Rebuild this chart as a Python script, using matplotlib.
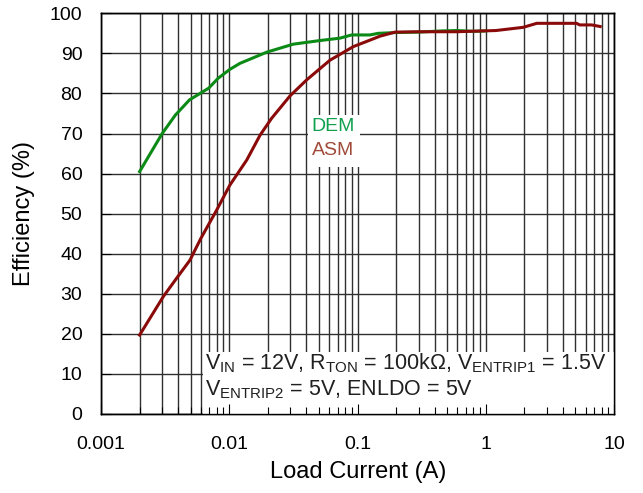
import matplotlib
matplotlib.use("Agg")
import matplotlib.pyplot as plt
from matplotlib.patches import Rectangle
from matplotlib.ticker import LogLocator, FixedLocator, NullFormatter, FixedFormatter

plt.rcParams['font.family'] = ['Liberation Sans', 'DejaVu Sans']
plt.rcParams['mathtext.fontset'] = 'custom'
plt.rcParams['mathtext.rm'] = 'Liberation Sans'
plt.rcParams['mathtext.it'] = 'Liberation Sans'

# Data
dem_current = [0.002, 0.003, 0.0038, 0.0049, 0.0069, 0.0082, 0.0101, 0.0121, 0.0196,
               0.0316, 0.051, 0.073, 0.090, 0.125, 0.145, 0.20, 0.30, 0.45, 0.60, 0.80, 1.0]
dem_eff = [60.5, 70.0, 74.6, 78.4, 81.3, 83.8, 86.0, 87.5, 90.3,
           92.3, 93.2, 93.8, 94.6, 94.6, 95.0, 95.2, 95.3, 95.6, 95.7, 95.5, 95.6]

asm_current = [0.002, 0.00306, 0.00389, 0.00494, 0.006, 0.00798, 0.0101, 0.0137, 0.0174,
               0.0214, 0.0298, 0.0402, 0.061, 0.093, 0.125, 0.150, 0.196, 0.30, 0.59,
               1.2, 1.96, 2.5, 5.1, 5.4, 6.7, 7.8]
asm_eff = [19.7, 29.3, 33.9, 38.4, 43.8, 50.9, 57.1, 63.4, 69.6,
           73.8, 79.4, 83.4, 88.3, 91.7, 93.3, 94.3, 95.3, 95.4, 95.4,
           95.7, 96.5, 97.5, 97.5, 97.1, 97.1, 96.7]

x_ticks = [0.001, 0.01, 0.1, 1, 10]
x_tick_labels = ['0.001', '0.01', '0.1', '1', '10']
y_ticks = list(range(0, 101, 10))

fig = plt.figure(figsize=(6.43, 4.93), dpi=100)
pos = [101/643, 1 - 414/493, 513/643, (414 - 13.3)/493]
ax = fig.add_axes(pos)
ax.set_xscale('log')
ax.set_xlim(0.001, 10)
ax.set_ylim(0, 100)
ax.set_axisbelow(True)

ax.xaxis.set_major_locator(FixedLocator(x_ticks))
ax.xaxis.set_major_formatter(FixedFormatter(x_tick_labels))
ax.xaxis.set_minor_locator(LogLocator(base=10, subs=range(2, 10)))
ax.xaxis.set_minor_formatter(NullFormatter())
ax.set_yticks(y_ticks)
ax.grid(True, which='both', axis='x', color='#303030', linewidth=1.0)
ax.grid(True, which='major', axis='y', color='#303030', linewidth=1.0)
ax.tick_params(which='both', length=0, labelsize=14)
ax.tick_params(axis='x', pad=16)
ax.tick_params(axis='y', pad=13.5)
for s in ax.spines.values():
    s.set_linewidth(1.0)
    s.set_color('black')

ax.plot(dem_current, dem_eff, color='#0B8A16', linewidth=2.2, zorder=2)
ax.plot(asm_current, asm_eff, color='#8A0A0A', linewidth=2.2, zorder=2.1)

ax.set_xlabel('Load Current (A)', fontsize=17)
ax.set_ylabel('Efficiency (%)', fontsize=17)
ax.xaxis.set_label_coords(0.502, -0.117)
ax.yaxis.set_label_coords(-0.129, 0.5)

# legend-like labels on a white patch
ax.add_patch(Rectangle((0.4035, 0.6164), 0.1014, 0.1298, transform=ax.transAxes,
                       facecolor='white', edgecolor='none', zorder=3))
ax.text(0.044, 70.7, 'DEM', color='#10A050', fontsize=14, ha='left', va='baseline', zorder=4)
ax.text(0.044, 64.6, 'ASM', color='#A04A3A', fontsize=14, ha='left', va='baseline', zorder=4)

# condition note on a white patch
ax.add_patch(Rectangle((0.1988, 0.0), 0.8012, 0.155, transform=ax.transAxes,
                       facecolor='white', edgecolor='none', zorder=3))
note1 = (r'V$_{\mathrm{IN}}$ = 12V, R$_{\mathrm{TON}}$ = 100k$\Omega$, '
         r'V$_{\mathrm{ENTRIP1}}$ = 1.5V')
note2 = r'V$_{\mathrm{ENTRIP2}}$ = 5V, ENLDO = 5V'
ax.text(0.00647, 11.1, note1, fontsize=15.5, color='#202020', ha='left', va='baseline', zorder=4)
ax.text(0.00647, 4.7, note2, fontsize=15.5, color='#202020', ha='left', va='baseline', zorder=4)

# overlay axes for inward ticks drawn above the patches
ax2 = fig.add_axes(pos, sharex=ax, sharey=ax, frameon=True)
ax2.patch.set_visible(False)
ax2.tick_params(which='both', direction='in', labelbottom=False, labelleft=False,
                top=False, right=False, color='black', width=0.8)
ax2.tick_params(which='major', length=7)
ax2.tick_params(which='minor', length=5)
ax2.grid(False)
for s in ax2.spines.values():
    s.set_linewidth(1.0)
    s.set_color('black')

fig.savefig('out.png', dpi=100)
